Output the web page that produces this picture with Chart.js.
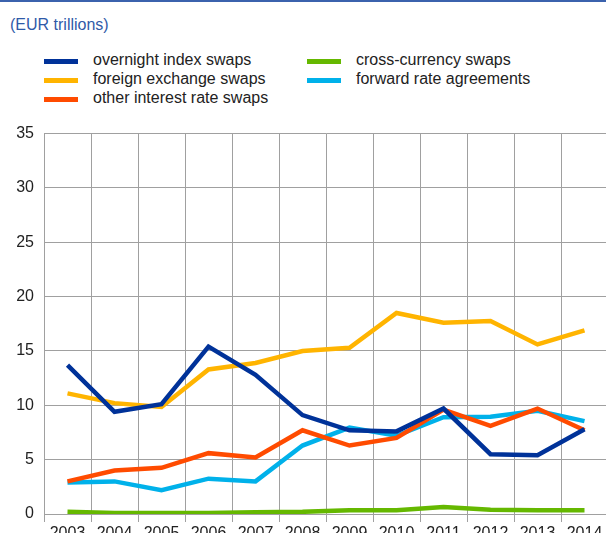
<!DOCTYPE html>
<html>
<head>
<meta charset="utf-8">
<script src="https://cdn.jsdelivr.net/npm/chart.js@4.4.1/dist/chart.umd.min.js"></script>
<style>
  html, body { margin: 0; padding: 0; background: #fff; }
  body { width: 606px; height: 533px; overflow: hidden; position: relative; font-family: "Liberation Sans", Arial, sans-serif; }
  #rule { position: absolute; left: 0; top: 0; width: 606px; height: 2px; background: #3b62ad; }
  #unit { position: absolute; left: 10px; top: 16px; font-size: 16px; color: #2f5aa8; }
  .item { position: absolute; font-size: 16px; color: #222; white-space: nowrap; }
  .swatch { position: absolute; width: 34px; height: 5px; }
  #wrap { position: absolute; left: 0; top: 114px; width: 608px; height: 430px; }
</style>
</head>
<body>
<div id="rule"></div>
<div id="unit">(EUR trillions)</div>
<div id="legend"></div>
<div id="wrap"><canvas id="grafico"></canvas></div>
<script>
const years = ['2003', '2004', '2005', '2006', '2007', '2008', '2009', '2010', '2011', '2012', '2013', '2014'];
const yTicks = [0, 5, 10, 15, 20, 25, 30, 35];

const overnightIndexSwaps = [13.7, 9.4, 10.1, 15.4, 12.8, 9.1, 7.7, 7.6, 9.7, 5.5, 5.4, 7.8];
const foreignExchangeSwaps = [11.1, 10.2, 9.85, 13.3, 13.9, 15.0, 15.3, 18.5, 17.6, 17.75, 15.6, 16.9];
const otherInterestRateSwaps = [3.0, 4.0, 4.25, 5.6, 5.2, 7.7, 6.3, 7.0, 9.6, 8.1, 9.7, 7.7];
const crossCurrencySwaps = [0.2, 0.1, 0.1, 0.1, 0.15, 0.2, 0.35, 0.35, 0.65, 0.4, 0.35, 0.35];
const forwardRateAgreements = [2.9, 3.0, 2.2, 3.25, 3.0, 6.3, 7.95, 7.2, 8.9, 8.95, 9.5, 8.55];

const series = [
  { label: 'overnight index swaps', data: overnightIndexSwaps, color: '#003299' },
  { label: 'foreign exchange swaps', data: foreignExchangeSwaps, color: '#ffb400' },
  { label: 'other interest rate swaps', data: otherInterestRateSwaps, color: '#ff4b00' },
  { label: 'cross-currency swaps', data: crossCurrencySwaps, color: '#65b800' },
  { label: 'forward rate agreements', data: forwardRateAgreements, color: '#00b1ea' }
];

// legenda em duas colunas, preenchida por coluna
const legend = document.getElementById('legend');
series.forEach((s, i) => {
  const col = i < 3 ? 0 : 1;
  const row = i < 3 ? i : i - 3;
  const y = 61 + row * 19;
  const sw = document.createElement('div');
  sw.className = 'swatch';
  sw.style.left = (col ? 307 : 44) + 'px';
  sw.style.top = (y - 2.5) + 'px';
  sw.style.background = s.color;
  legend.appendChild(sw);
  const tx = document.createElement('div');
  tx.className = 'item';
  tx.style.left = (col ? 356 : 93) + 'px';
  tx.style.top = (y - 10) + 'px';
  tx.textContent = s.label;
  legend.appendChild(tx);
});

const ctx = document.getElementById('grafico').getContext('2d');
new Chart(ctx, {
  type: 'line',
  data: {
    labels: years,
    datasets: series.map(s => ({
      label: s.label,
      data: s.data,
      borderColor: s.color,
      backgroundColor: s.color,
      borderWidth: 4.5,
      pointRadius: 0,
      tension: 0,
      fill: false
    }))
  },
  options: {
    responsive: true,
    maintainAspectRatio: false,
    animation: false,
    layout: { padding: { top: 0, right: 0, bottom: 0, left: 0 } },
    plugins: {
      legend: { display: false },
      tooltip: { enabled: false }
    },
    scales: {
      x: {
        offset: true,
        grid: { offset: true, color: '#a0a0a0', tickLength: 8, drawTicks: true },
        border: { color: '#a0a0a0' },
        ticks: { color: '#222', padding: 2, maxRotation: 0, autoSkip: false, font: { family: '"Liberation Sans", Arial, sans-serif', size: 16 } },
        afterFit: scale => { scale.height = 30; }
      },
      y: {
        min: 0,
        max: 35,
        afterBuildTicks: scale => { scale.ticks = yTicks.map(v => ({ value: v })); },
        grid: { color: '#a0a0a0', drawTicks: false },
        border: { color: '#a0a0a0' },
        ticks: { color: '#222', padding: 10, font: { family: '"Liberation Sans", Arial, sans-serif', size: 16 } },
        afterFit: scale => { scale.width = 44; }
      }
    }
  }
});
</script>
</body>
</html>
